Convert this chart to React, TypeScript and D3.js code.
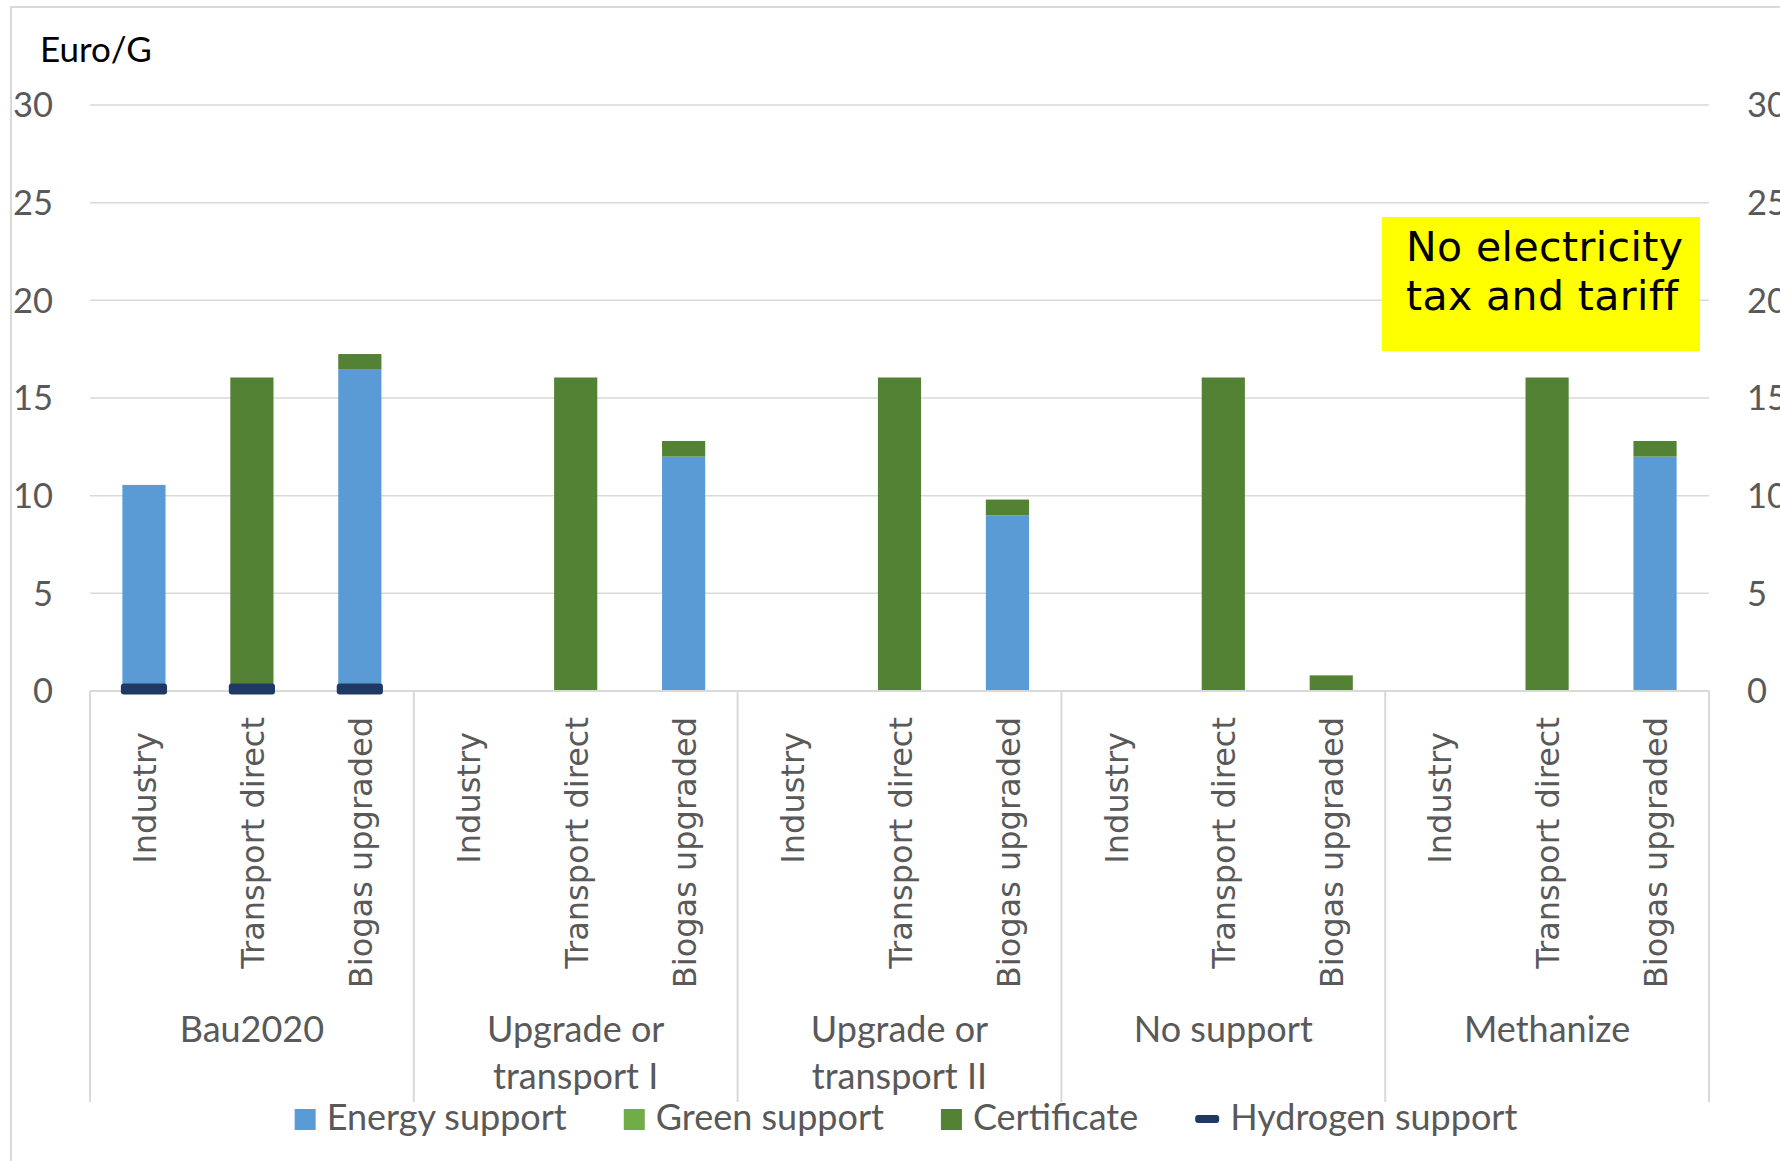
import React, { useEffect, useRef } from 'react';
import * as d3 from 'd3';

// scenario groups and the three uses inside each of them
const groups = ['Bau2020', 'Upgrade or transport I', 'Upgrade or transport II', 'No support', 'Methanize'];
const uses = ['Industry', 'Transport direct', 'Biogas upgraded'];

// values in Euro/G, one per group x use (group-major order)
const energySupport = [10.55, 0, 16.45, 0, 0, 12.0, 0, 0, 9.0, 0, 0, 0, 0, 0, 12.0];
const greenSupport = [0, 0, 0, 0, 0, 0, 0, 0, 0, 0, 0, 0, 0, 0, 0];
const certificate = [0, 16.05, 0.8, 0, 16.05, 0.8, 0, 16.05, 0.8, 0, 16.05, 0.8, 0, 16.05, 0.8];
const hydrogenSupport: (number | null)[] = [0.1, 0.1, 0.1, null, null, null, null, null, null, null, null, null, null, null, null];

const yTicks = [0, 5, 10, 15, 20, 25, 30];

const seriesKeys = ['energy', 'green', 'certificate'];
const seriesNames = ['Energy support', 'Green support', 'Certificate', 'Hydrogen support'];
const colors: Record<string, string> = {
  energy: '#5B9BD5',
  green: '#70AD47',
  certificate: '#548235',
  hydrogen: '#203864',
};

const W = 1780;
const H = 1161;
const calibri = 'Lato, "Open Sans", sans-serif';
const verdana = '"DejaVu Sans", Verdana, sans-serif';
// Excel pushes the short label a bit further from the axis
const labelShift: Record<string, number> = { Industry: 15 };

const App: React.FC = () => {
  const svgRef = useRef<SVGSVGElement>(null);

  useEffect(() => {
    document.body.style.margin = '0';
    document.body.style.overflow = 'hidden';
    if (!svgRef.current) return;
    const svg = d3.select(svgRef.current);
    svg.selectAll('*').remove();

    const margin = { top: 105, left: 90, right: W - 1709, bottom: H - 691 };
    const x0 = d3.scaleBand<string>().domain(groups).range([margin.left, W - margin.right]);
    const x1 = d3.scaleBand<string>().domain(uses).range([0, x0.bandwidth()]).paddingInner(0.6).paddingOuter(0.3);
    const y = d3.scaleLinear().domain([0, 30]).range([H - margin.bottom, margin.top]);

    const rows = groups.flatMap((g, gi) =>
      uses.map((u, ui) => {
        const i = gi * uses.length + ui;
        return {
          group: g,
          use: u,
          energy: energySupport[i],
          green: greenSupport[i],
          certificate: certificate[i],
          hydrogen: hydrogenSupport[i],
        };
      })
    );

    // chart area border
    svg.append('rect')
      .attr('x', 11).attr('y', 7)
      .attr('width', W + 20).attr('height', H + 20)
      .attr('fill', '#fff')
      .attr('stroke', '#d9d9d9')
      .attr('stroke-width', 2);

    // gridlines
    svg.append('g')
      .selectAll('line')
      .data(yTicks.filter(t => t > 0))
      .enter()
      .append('line')
      .attr('x1', margin.left)
      .attr('x2', W - margin.right)
      .attr('y1', d => y(d))
      .attr('y2', d => y(d))
      .attr('stroke', '#d9d9d9')
      .attr('stroke-width', 1.5);

    // y tick labels, both sides
    const tickStyle = (sel: any) => sel
      .attr('y', (d: number) => y(d))
      .attr('dy', '0.36em')
      .style('font-family', calibri)
      .style('font-size', '34.5px')
      .style('fill', '#595959')
      .text((d: number) => d);

    svg.append('g').selectAll('text').data(yTicks).enter().append('text')
      .attr('x', 53).attr('text-anchor', 'end').call(tickStyle);
    svg.append('g').selectAll('text').data(yTicks).enter().append('text')
      .attr('x', 1747).attr('text-anchor', 'start').call(tickStyle);

    svg.append('text')
      .attr('x', 40).attr('y', 62)
      .style('font-family', calibri)
      .style('font-size', '35px')
      .style('fill', '#000')
      .text('Euro/G');

    // stacked bars
    const stacked = d3.stack<any>().keys(seriesKeys)(rows);
    const barG = svg.append('g');
    stacked.forEach(layer => {
      barG.append('g')
        .attr('fill', colors[layer.key])
        .selectAll('rect')
        .data(layer.filter(d => d[1] - d[0] > 0))
        .enter()
        .append('rect')
        .attr('x', d => x0(d.data.group)! + x1(d.data.use)!)
        .attr('width', x1.bandwidth())
        .attr('y', d => y(d[1]))
        .attr('height', d => y(d[0]) - y(d[1]));
    });

    // category axis
    const axisY = y(0);
    svg.append('line')
      .attr('x1', margin.left).attr('x2', W - margin.right)
      .attr('y1', axisY).attr('y2', axisY)
      .attr('stroke', '#d9d9d9').attr('stroke-width', 2);

    const bounds = groups.map(g => x0(g)!).concat([x0(groups[groups.length - 1])! + x0.bandwidth()]);
    svg.append('g').selectAll('line').data(bounds).enter().append('line')
      .attr('x1', d => d).attr('x2', d => d)
      .attr('y1', axisY).attr('y2', 1102)
      .attr('stroke', '#d9d9d9').attr('stroke-width', 2);

    // hydrogen support as dash markers
    const markerW = x1.bandwidth() + 3;
    svg.append('g')
      .selectAll('rect')
      .data(rows.filter(r => r.hydrogen !== null))
      .enter()
      .append('rect')
      .attr('x', d => x0(d.group)! + x1(d.use)! + x1.bandwidth() / 2 - markerW / 2)
      .attr('y', d => y(d.hydrogen as number) - 5.5)
      .attr('width', markerW)
      .attr('height', 11)
      .attr('rx', 3)
      .attr('fill', colors.hydrogen);

    // rotated use labels
    svg.append('g')
      .selectAll('text')
      .data(rows)
      .enter()
      .append('text')
      .attr('transform', d => `translate(${x0(d.group)! + x1(d.use)! + x1.bandwidth() / 2}, ${717 + (labelShift[d.use] || 0)}) rotate(-90)`)
      .attr('dy', '0.38em')
      .attr('text-anchor', 'end')
      .style('font-family', verdana)
      .style('font-size', '32px')
      .style('fill', '#595959')
      .text(d => d.use);

    // group labels, wrapped
    const groupText = svg.append('g')
      .selectAll('text')
      .data(groups)
      .enter()
      .append('text')
      .attr('text-anchor', 'middle')
      .style('font-family', calibri)
      .style('font-size', '36px')
      .style('fill', '#595959');

    groupText.each(function (g) {
      const t = d3.select(this);
      const cx = x0(g)! + x0.bandwidth() / 2;
      const words = g.split(' ');
      const lines: string[] = [];
      let cur = '';
      const probe = t.append('tspan');
      words.forEach(w => {
        const test = cur ? cur + ' ' + w : w;
        probe.text(test);
        if ((probe.node() as SVGTextContentElement).getComputedTextLength() > x0.bandwidth() * 0.85 && cur) {
          lines.push(cur);
          cur = w;
        } else {
          cur = test;
        }
      });
      lines.push(cur);
      probe.remove();
      lines.forEach((line, li) => {
        t.append('tspan').attr('x', cx).attr('y', 1042 + li * 47).text(line);
      });
    });

    // legend
    const legend = svg.append('g');
    let lx = 0;
    const items: { g: any; w: number }[] = [];
    seriesNames.forEach((name, i) => {
      const key = i < 3 ? seriesKeys[i] : 'hydrogen';
      const item = legend.append('g');
      let symW = 21;
      if (key === 'hydrogen') {
        symW = 24;
        item.append('rect').attr('x', 0).attr('y', 1115).attr('width', symW).attr('height', 8).attr('rx', 3)
          .attr('fill', colors[key]);
      } else {
        item.append('rect').attr('x', 0).attr('y', 1109).attr('width', symW).attr('height', 21)
          .attr('fill', colors[key]);
      }
      const txt = item.append('text')
        .attr('x', symW + 11).attr('y', 1130)
        .style('font-family', calibri)
        .style('font-size', '36px')
        .style('fill', '#595959')
        .text(name);
      const w = symW + 11 + (txt.node() as SVGTextContentElement).getComputedTextLength();
      items.push({ g: item, w });
    });
    const gap = 57;
    const total = d3.sum(items, d => d.w) + gap * (items.length - 1);
    lx = 906 - total / 2;
    items.forEach(it => {
      it.g.attr('transform', `translate(${lx},0)`);
      lx += it.w + gap;
    });

    // annotation box
    const note = svg.append('g');
    note.append('rect')
      .attr('x', 1382).attr('y', 217)
      .attr('width', 318).attr('height', 134)
      .attr('fill', '#FFFF00');
    ['No electricity', 'tax and tariff'].forEach((line, i) => {
      note.append('text')
        .attr('x', 1406).attr('y', 261 + i * 49)
        .style('font-family', verdana)
        .style('font-size', '41px')
        .style('letter-spacing', '0.4px')
        .style('fill', '#000')
        .text(line);
    });
  }, []);

  return <svg ref={svgRef} width={W} height={H} style={{ display: 'block' }} />;
};

export default App;
